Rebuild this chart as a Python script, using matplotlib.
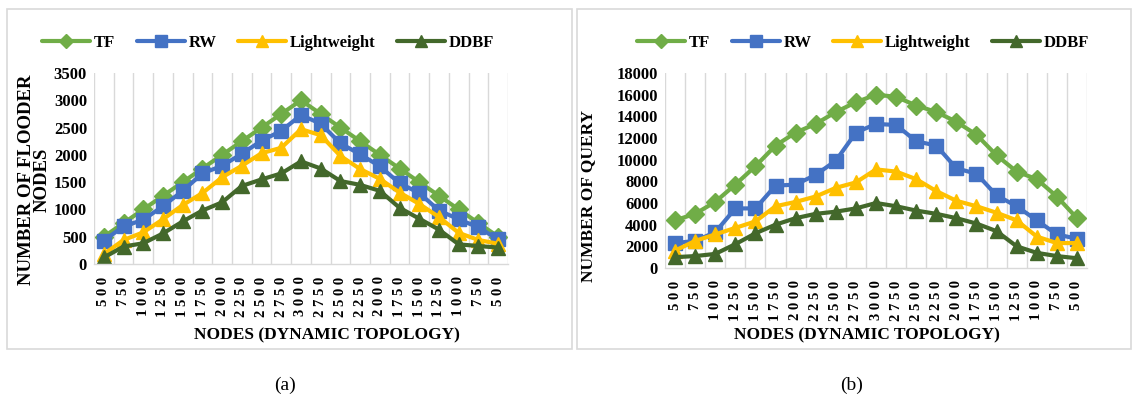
import matplotlib
matplotlib.use("Agg")
import matplotlib.pyplot as plt
from matplotlib.patches import Rectangle

plt.rcParams['font.family'] = ['Liberation Serif', 'DejaVu Serif']

nodes = [500, 750, 1000, 1250, 1500, 1750, 2000, 2250, 2500, 2750, 3000,
         2750, 2500, 2250, 2000, 1750, 1500, 1250, 1000, 750, 500]
tick_labels = [" ".join(str(n)) for n in nodes]

series_names = ["TF", "RW", "Lightweight", "DDBF"]

# (a) number of flooder nodes
flood_tf = [500, 750, 1000, 1250, 1500, 1750, 2000, 2250, 2500, 2750, 3000,
            2750, 2500, 2250, 2000, 1750, 1500, 1250, 1000, 750, 500]
flood_rw = [430, 690, 810, 1060, 1340, 1660, 1800, 2020, 2260, 2440, 2730,
            2570, 2210, 2010, 1790, 1480, 1300, 980, 820, 670, 450]
flood_lw = [180, 440, 580, 820, 1080, 1300, 1590, 1800, 2030, 2130, 2470,
            2360, 1980, 1740, 1560, 1310, 1100, 860, 570, 440, 370]
flood_ddbf = [120, 320, 380, 560, 780, 980, 1130, 1430, 1550, 1660, 1880,
              1750, 1520, 1450, 1340, 1030, 830, 630, 360, 330, 300]

# (b) number of query
query_tf = [4400, 5000, 6100, 7700, 9400, 11300, 12500, 13300, 14400, 15300, 16000,
            15800, 15000, 14400, 13500, 12300, 10400, 8900, 8200, 6600, 4600]
query_rw = [2300, 2500, 3300, 5500, 5500, 7600, 7700, 8600, 9900, 12500, 13300,
            13200, 11700, 11300, 9200, 8700, 6700, 5700, 4400, 3100, 2700]
query_lw = [1600, 2500, 3100, 3700, 4300, 5700, 6100, 6600, 7400, 7900, 9100,
            8900, 8200, 7100, 6200, 5700, 5100, 4400, 2900, 2300, 2300]
query_ddbf = [1000, 1100, 1300, 2200, 3200, 4000, 4600, 5000, 5200, 5500, 6000,
              5700, 5300, 5000, 4600, 4100, 3400, 2000, 1400, 1100, 900]

colors = ["#70AD47", "#4472C4", "#FFC000", "#43682B"]
markers = ["D", "s", "^", "^"]
msizes = [9, 10.5, 10, 10]

W, H = 1133, 401
fig = plt.figure(figsize=(W / 100, H / 100), dpi=100)


def fx(px):
    return px / W


def fy(py):
    return 1 - py / H


# panel borders
for x0, x1 in [(7, 572), (577, 1131)]:
    fig.patches.append(Rectangle((fx(x0), fy(349)), fx(x1 - x0), (349 - 9) / H,
                                 transform=fig.transFigure, fill=False,
                                 edgecolor="#D9D9D9", linewidth=1.2))


def draw(box, data, ymax, ystep, ylabel, ylab_size, ylab_xy, xlab_xy, legend_cx):
    l, t, r, b = box
    ax = fig.add_axes([fx(l), fy(b), fx(r - l), (b - t) / H])
    x = list(range(len(nodes)))
    for vals, name, c, m, ms in zip(data, series_names, colors, markers, msizes):
        ax.plot(x, vals, color=c, marker=m, markersize=ms, linewidth=3,
                markeredgecolor=c, label=name, solid_joinstyle="round",
                solid_capstyle="round")
    ax.set_xlim(-0.5, len(nodes) - 0.5)
    ax.set_ylim(0, ymax)
    ax.set_yticks(range(0, ymax + 1, ystep))
    ax.set_xticks(x)
    ax.set_xticklabels(tick_labels, rotation=90, fontsize=10.5, fontweight="bold",
                       va="top", ha="center")
    ax.set_xticks([i - 0.5 for i in range(len(nodes) + 1)], minor=True)
    ax.grid(True, which="minor", axis="x", color="#D9D9D9", linewidth=1)
    ax.tick_params(axis="both", which="both", length=0)
    ax.tick_params(axis="x", pad=9)
    ax.tick_params(axis="y", pad=5)
    for lab in ax.get_yticklabels():
        lab.set_fontweight("bold")
        lab.set_fontsize(12)
    for s in ["top", "left", "right"]:
        ax.spines[s].set_visible(False)
    ax.spines["bottom"].set_color("#D9D9D9")
    ax.spines["bottom"].set_linewidth(1)
    ax.set_axisbelow(True)
    ax.set_ylabel(ylabel, fontsize=ylab_size, fontweight="bold", linespacing=0.9)
    ax.yaxis.set_label_coords((ylab_xy[0] - l) / (r - l), (b - ylab_xy[1]) / (b - t))
    ax.set_xlabel("NODES (DYNAMIC TOPOLOGY)", fontsize=12.5, fontweight="bold")
    ax.xaxis.set_label_coords((xlab_xy[0] - l) / (r - l), (b - xlab_xy[1]) / (b - t))
    handles, labels = ax.get_legend_handles_labels()
    fig.legend(handles, labels, loc="center", bbox_to_anchor=(fx(legend_cx), fy(43)),
               ncol=4, frameon=False, prop={"weight": "bold", "size": 12},
               handlelength=2.9, handletextpad=0.2, columnspacing=1.3,
               markerscale=0.8)
    return ax


draw((94, 73, 508, 264), [flood_tf, flood_rw, flood_lw, flood_ddbf], 3500, 500,
     "NUMBER OF FLOODER\nNODES", 13.5, (51, 180), (327, 327), 268)
draw((665, 73, 1087, 268), [query_tf, query_rw, query_lw, query_ddbf], 18000, 2000,
     "NUMBER OF QUERY", 12.5, (596, 196), (867, 327), 863)

fig.text(fx(285), fy(385), "(a)", ha="center", va="center", fontsize=14)
fig.text(fx(852), fy(385), "(b)", ha="center", va="center", fontsize=14)

fig.savefig("out.png", dpi=100)
